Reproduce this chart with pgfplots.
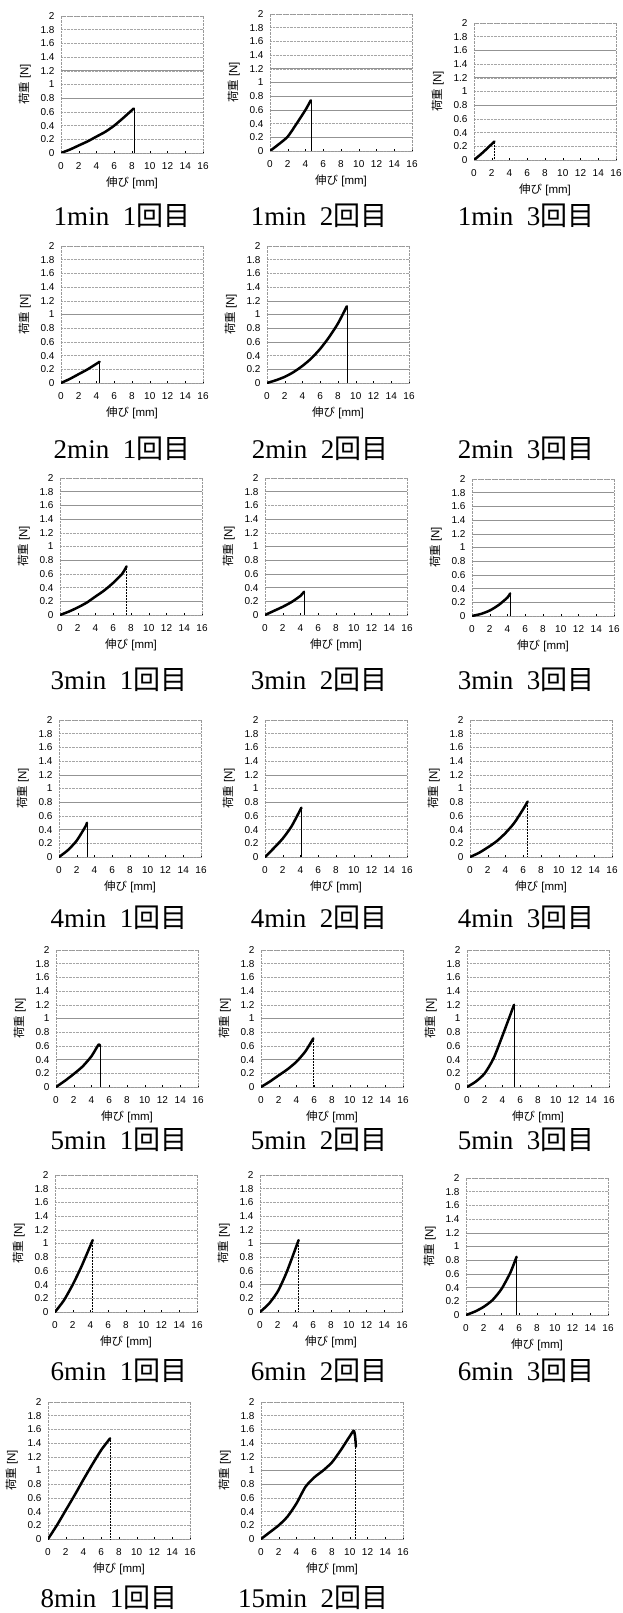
\documentclass[border=0pt]{standalone}
\usepackage{fontspec}
\setmainfont{Liberation Serif}
\newfontfamily\cjk{Noto Sans CJK JP}
\newfontfamily\lsans{Liberation Sans}
\usepackage{pgfplots}
\pgfplotsset{compat=1.18}
\pgfplotsset{
 panel/.style={
  scale only axis, width=142pt, height=137pt,
  xmin=0, xmax=16, ymin=0, ymax=2,
  xtick={0,2,4,6,8,10,12,14,16},
  ytick={0,0.2,0.4,0.6,0.8,1,1.2,1.4,1.6,1.8,2},
  anchor=north west,
  ymajorgrids, major grid style={densely dotted, gray!70, line width=0.5pt},
  axis line style={densely dotted, gray!80},
  tick align=inside, xtick pos=bottom, ytick pos=left,
  major tick length=2pt,
  ytick style={draw=none},
  xtick style={black, line width=0.4pt},
  /pgf/number format/assume math mode=true,
  tick label style={font=\lsans\fontsize{10}{11}\selectfont},
  xticklabel style={yshift=-6pt},
  yticklabel style={xshift=-3pt},
  xlabel={{\cjk 伸び} [mm]}, ylabel={{\cjk 荷重} [N]},
  label style={font=\lsans\fontsize{11.5}{12}\selectfont},
  xlabel style={at={(axis description cs:0.5,-0.215)}, anchor=center},
  ylabel style={at={(axis description cs:-0.255,0.5)}, anchor=center},
  extra y tick labels={},
  extra tick style={grid=major, major grid style={solid, gray!85, line width=0.6pt}, tick style={draw=none}},
 },
 curve/.style={black, line width=2.5pt, line join=round, line cap=round, smooth, tension=0.4},
 drop/.style={black, line width=0.5pt},
}
\newcommand\panel[6]{%
\begin{axis}[panel, at={(#1pt,-#2pt)}, extra y ticks={#5}]
\addplot[curve] coordinates {#3};
\addplot[drop,#6] coordinates {#4};
\end{axis}}
\newcommand\ttl[3]{\node[font=\fontsize{27}{30}\selectfont, inner sep=0pt] at (#1pt,-#2pt) {#3};}
\begin{document}
\begin{tikzpicture}
\useasboundingbox (0,0) rectangle (623pt,-1613pt);
% Row 1
\panel{61}{16}{(0,0)(1,0.05)(2,0.11)(3,0.17)(4,0.24)(5,0.31)(6,0.40)(7,0.51)(8.2,0.65)}{(8.2,0.65)(8.2,0)}{0.8,1.2}{}
\panel{270}{14}{(0,0)(1,0.1)(2,0.21)(3,0.4)(4,0.6)(4.6,0.74)}{(4.6,0.74)(4.6,0)}{0.2,0.6,0.8,1,1.2}{}
\panel{474}{23}{(0,0)(1,0.11)(2.3,0.27)}{(2.3,0.27)(2.3,0)}{0.8,1.2,1.6}{densely dotted}
\ttl{122}{216}{1min\hspace{0.5em}1{\cjk 回目}}
\ttl{319}{216}{1min\hspace{0.5em}2{\cjk 回目}}
\ttl{526}{216}{1min\hspace{0.5em}3{\cjk 回目}}
% Row 2
\panel{61}{246}{(0,0)(1,0.06)(2,0.13)(3,0.2)(4.35,0.31)}{(4.35,0.31)(4.35,0)}{1}{}
\panel{267}{246}{(0,0)(1,0.04)(2,0.09)(3,0.16)(4,0.25)(5,0.36)(6,0.5)(7,0.67)(8,0.87)(9,1.12)}{(9,1.12)(9,0)}{0.2,0.6,0.8,1,1.2}{}
\ttl{122}{449}{2min\hspace{0.5em}1{\cjk 回目}}
\ttl{320}{449}{2min\hspace{0.5em}2{\cjk 回目}}
\ttl{526}{449}{2min\hspace{0.5em}3{\cjk 回目}}
% Row 3
\panel{60}{478}{(0,0)(1,0.05)(2,0.11)(3,0.18)(4,0.27)(5,0.36)(6,0.47)(7,0.6)(7.5,0.71)}{(7.5,0.71)(7.5,0)}{0.2,0.8,1.4,1.6,1.8}{densely dotted}
\panel{265}{478}{(0,0)(1,0.06)(2,0.12)(3,0.19)(4,0.28)(4.4,0.34)}{(4.4,0.34)(4.4,0)}{0.2,0.4,0.6,0.8,1,1.4,1.8}{}
\panel{472}{479}{(0,0)(1,0.03)(2,0.08)(3,0.16)(4,0.27)(4.3,0.33)}{(4.3,0.33)(4.3,0)}{0.2,0.4,0.6,0.8,1,1.2,1.4,1.6,1.8}{}
\ttl{119}{680}{3min\hspace{0.5em}1{\cjk 回目}}
\ttl{319}{680}{3min\hspace{0.5em}2{\cjk 回目}}
\ttl{526}{680}{3min\hspace{0.5em}3{\cjk 回目}}
% Row 4
\panel{59}{720}{(0,0)(1,0.1)(2,0.24)(3,0.45)(3.15,0.5)}{(3.15,0.5)(3.15,0)}{0.4,0.8,1.2}{}
\panel{265}{720}{(0,0)(1,0.13)(2,0.27)(3,0.45)(4.1,0.72)}{(4.1,0.72)(4.1,0)}{0.8,1.2}{}
\panel{470}{720}{(0,0)(1,0.06)(2,0.14)(3,0.23)(4,0.35)(5,0.5)(6,0.7)(6.5,0.81)}{(6.5,0.81)(6.5,0)}{}{densely dotted}
\ttl{119}{918}{4min\hspace{0.5em}1{\cjk 回目}}
\ttl{319}{918}{4min\hspace{0.5em}2{\cjk 回目}}
\ttl{526}{918}{4min\hspace{0.5em}3{\cjk 回目}}
% Row 5
\panel{56}{950}{(0,0)(1,0.09)(2,0.19)(3,0.3)(4,0.45)(4.8,0.62)(4.95,0.6)}{(4.95,0.6)(4.95,0)}{0.4,1}{}
\panel{261}{950}{(0,0)(1,0.08)(2,0.17)(3,0.26)(4,0.37)(5,0.52)(5.9,0.71)}{(5.9,0.71)(5.9,0)}{0.4,1}{densely dotted}
\panel{467}{950}{(0,0)(1,0.08)(2,0.2)(3,0.42)(4,0.75)(5.3,1.2)}{(5.3,1.2)(5.3,0)}{}{}
\ttl{119}{1140}{5min\hspace{0.5em}1{\cjk 回目}}
\ttl{319}{1140}{5min\hspace{0.5em}2{\cjk 回目}}
\ttl{526}{1140}{5min\hspace{0.5em}3{\cjk 回目}}
% Row 6
\panel{55}{1175}{(0,0)(1,0.17)(2,0.4)(3,0.67)(4.25,1.05)}{(4.25,1.05)(4.25,0)}{}{densely dotted}
\panel{260}{1175}{(0,0)(1,0.12)(2,0.3)(3,0.58)(4.35,1.05)}{(4.35,1.05)(4.35,0)}{0.4,1}{densely dotted}
\panel{466}{1178}{(0,0)(1,0.05)(2,0.12)(3,0.22)(4,0.38)(5,0.62)(5.7,0.85)}{(5.7,0.85)(5.7,0)}{0.2,0.4,0.6,0.8,1,1.2}{}
\ttl{119}{1371}{6min\hspace{0.5em}1{\cjk 回目}}
\ttl{319}{1371}{6min\hspace{0.5em}2{\cjk 回目}}
\ttl{526}{1371}{6min\hspace{0.5em}3{\cjk 回目}}
% Row 7
\panel{48}{1402}{(0,0)(1,0.2)(2,0.42)(3,0.64)(4,0.87)(5,1.09)(6,1.3)(7,1.47)}{(7,1.47)(7,0)}{}{densely dotted}
\panel{261}{1402}{(0,0)(1,0.1)(2,0.2)(3,0.33)(4,0.52)(5,0.76)(6,0.9)(7,1.0)(8,1.12)(9,1.3)(10,1.5)(10.45,1.58)(10.6,1.5)(10.7,1.35)}{(10.6,1.5)(10.6,0)}{0.8,1}{densely dotted}
\ttl{109}{1598}{8min\hspace{0.5em}1{\cjk 回目}}
\ttl{313}{1598}{15min\hspace{0.5em}2{\cjk 回目}}
\end{tikzpicture}
\end{document}
